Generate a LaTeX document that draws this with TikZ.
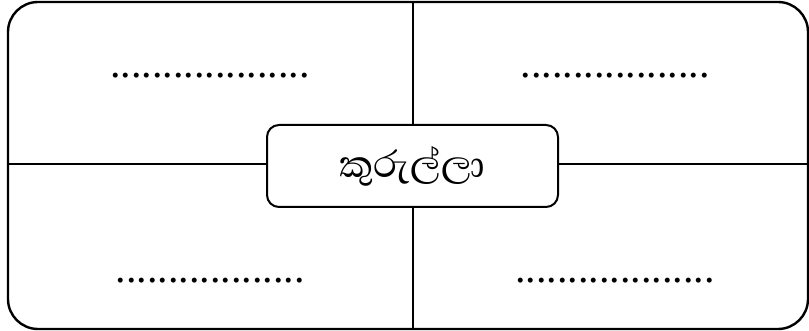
\documentclass[tikz,border=0pt]{standalone}
\usepackage{fontspec}
\setmainfont{Liberation Serif}
\newfontfamily\sinhalafont[Script=Sinhala]{Abhaya Libre}
\begin{document}
\begin{tikzpicture}[x=1pt,y=-1pt,
  frame/.style={draw,line width=2.4pt,rounded corners=30pt,minimum width=800pt,minimum height=327pt,inner sep=0pt},
  divider/.style={line width=2.4pt},
  centerbox/.style={draw,line width=2pt,rounded corners=12pt,fill=white,minimum width=291pt,minimum height=82pt,inner sep=0pt,font=\sinhalafont\fontsize{48}{56}\selectfont},
  dots/.style={font=\fontsize{42}{46}\selectfont,inner sep=0pt,anchor=base}
]
\useasboundingbox (0,0) rectangle (809,331);
\node[frame] (outer) at (408,165.5) {};
\coordinate (vtop) at (413,2);
\coordinate (vbot) at (413,329);
\coordinate (hleft) at (8,164);
\coordinate (hright) at (808,164);
\draw[divider] (vtop) -- (vbot);
\draw[divider] (hleft) -- (hright);
\node[centerbox] (bird) at (412.5,166) {කුරුල්ලා};
\node[dots] (tl) at (210,78) {...................};
\node[dots] (tr) at (615,78) {..................};
\node[dots] (bl) at (210,283) {..................};
\node[dots] (br) at (615,283) {...................};
\end{tikzpicture}
\end{document}
